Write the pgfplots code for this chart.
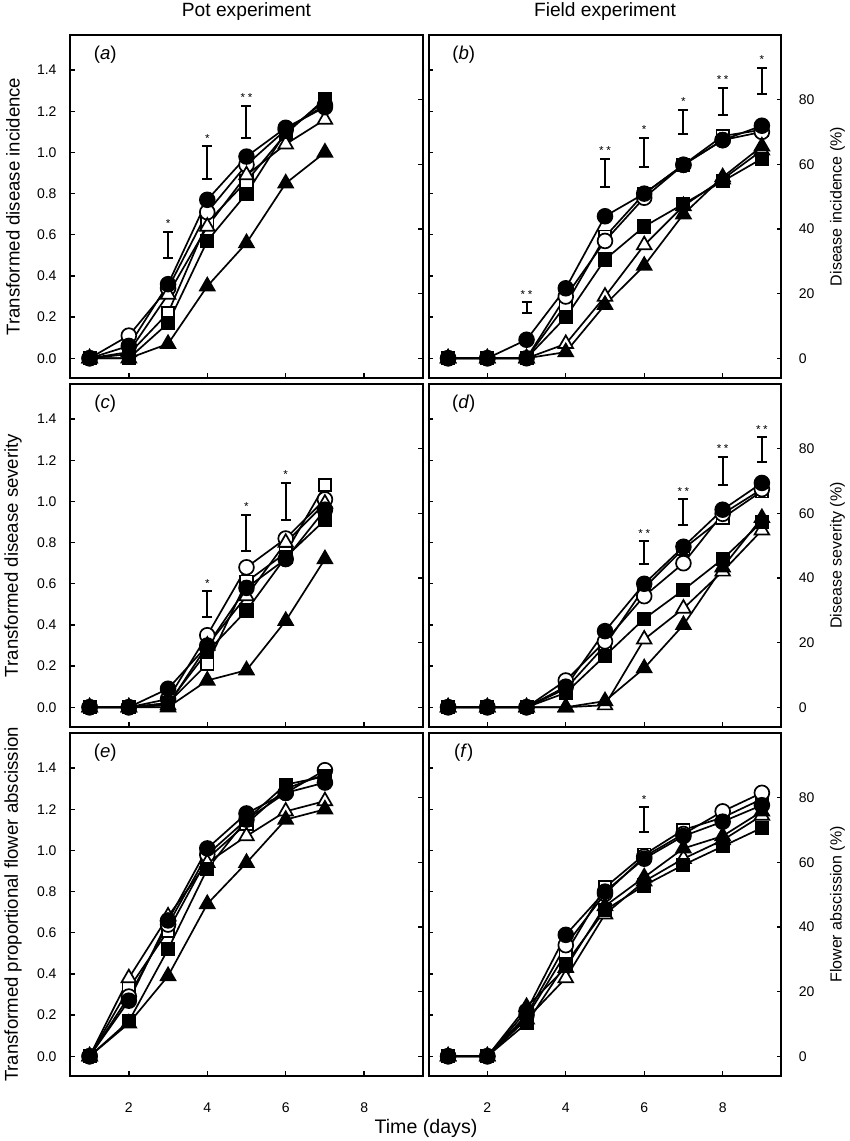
\documentclass[border=0pt]{standalone}
\usepackage{fontspec}
\setmainfont{Liberation Sans}
\usepackage{pgfplots}
\usepackage{pgfplotstable}
\pgfplotsset{compat=1.18}

\newcommand\tickfont{\fontsize{7}{8}\selectfont}
\newcommand\labfont{\fontsize{9.3}{11}\selectfont}
\newcommand\rlabfont{\fontsize{8}{10}\selectfont}
\newcommand\titfont{\fontsize{9.6}{11}\selectfont}
\newcommand\panfont{\fontsize{9.3}{10}\selectfont}
\newcommand\starfont{\fontsize{5.8}{6}\selectfont}

\pgfplotstableread{
x oc fc os fs ot ft
1 0 0 0 0 0 0
2 0.11 0.06 0.02 0.00 0.03 0.00
3 0.34 0.36 0.22 0.17 0.31 0.07
4 0.71 0.77 0.66 0.57 0.64 0.35
5 0.94 0.98 0.86 0.80 0.89 0.56
6 1.11 1.12 1.09 1.10 1.04 0.85
7 1.23 1.22 1.26 1.25 1.16 1.00
}\tabA
\pgfplotstableread{
x oc fc os fs ot ft
1 0 0 0 0 0 0
2 0 0 0 0 0 0
3 0 0.09 0 0 0 0
4 0.30 0.34 0.26 0.20 0.07 0.03
5 0.57 0.69 0.59 0.48 0.30 0.26
6 0.78 0.80 0.80 0.64 0.55 0.45
7 0.94 0.94 0.94 0.75 0.74 0.70
8 1.06 1.06 1.08 0.86 0.87 0.88
9 1.10 1.13 1.11 0.97 1.01 1.03
}\tabB
\pgfplotstableread{
x oc fc os fs ot ft
1 0 0 0 0 0 0
2 0 0 0 0 0 0
3 0.04 0.09 0.02 0.02 0.01 0.00
4 0.35 0.30 0.21 0.27 0.30 0.13
5 0.68 0.58 0.61 0.47 0.54 0.18
6 0.82 0.72 0.75 0.73 0.80 0.42
7 1.01 0.96 1.08 0.91 0.99 0.72
}\tabC
\pgfplotstableread{
x oc fc os fs ot ft
1 0 0 0 0 0 0
2 0 0 0 0 0 0
3 0 0 0 0 0 0
4 0.13 0.10 0.09 0.07 0.00 0.00
5 0.32 0.37 0.30 0.25 0.01 0.03
6 0.54 0.60 0.58 0.43 0.33 0.19
7 0.70 0.78 0.77 0.57 0.48 0.40
8 0.94 0.96 0.92 0.72 0.66 0.68
9 1.06 1.09 1.05 0.90 0.86 0.92
}\tabD
\pgfplotstableread{
x oc fc os fs ot ft
1 0 0 0 0 0 0
2 0.29 0.27 0.33 0.17 0.38 0.16
3 0.64 0.66 0.61 0.52 0.68 0.39
4 0.98 1.01 0.96 0.91 0.94 0.74
5 1.15 1.18 1.13 1.15 1.07 0.94
6 1.28 1.28 1.30 1.32 1.19 1.15
7 1.39 1.33 1.37 1.36 1.24 1.20
}\tabE
\pgfplotstableread{
x oc fc os fs ot ft
1 0 0 0 0 0 0
2 0 0 0 0 0 0
3 0.20 0.22 0.19 0.16 0.18 0.24
4 0.54 0.59 0.50 0.45 0.38 0.43
5 0.79 0.80 0.82 0.71 0.69 0.73
6 0.97 0.96 0.98 0.83 0.85 0.87
7 1.08 1.07 1.10 0.93 0.96 1.01
8 1.19 1.14 1.16 1.02 1.05 1.07
9 1.28 1.22 1.25 1.11 1.17 1.19
}\tabF

\pgfplotsset{
  base/.style={
    scale only axis, width=176.5pt, height=171.5pt,
    xmin=0.5, xmax=9.5, ymin=-0.096, ymax=1.5708,
    axis line style={line width=1pt},
    tick align=inside, major tick length=2.3pt,
    every tick/.style={black, line width=0.7pt},
    ticklabel style={font=\tickfont},
    anchor=north west, clip=false,
  },
  main/.style={base,
    xtick={2,4,6,8}, xtick pos=left, xticklabels={},
    ytick={0,0.2,0.4,0.6,0.8,1.0,1.2,1.4}, ytick pos=left, yticklabels={},
  },
  leftlab/.style={
    yticklabels={0.0,0.2,0.4,0.6,0.8,1.0,1.2,1.4},
    yticklabel style={xshift=-3.2pt},
    ylabel style={at={(axis description cs:-0.1615,0.5)}, anchor=center, font=\labfont},
  },
  bottomlab/.style={
    xticklabels={2,4,6,8},
    xticklabel style={yshift=-10pt},
  },
  over/.style={base,
    xtick=\empty, axis line style={draw=none},
    ytick={0,0.314159,0.628319,0.942478,1.256637},
    ytick pos=right, yticklabel pos=right, yticklabels={},
  },
  rightlab/.style={
    yticklabels={0,20,40,60,80},
    yticklabel style={xshift=5.2pt},
    ylabel style={at={(axis description cs:1.1586,0.5)}, anchor=center, font=\rlabfont},
  },
  toptitle/.style={title style={at={(axis description cs:0.5,1)}, anchor=center, yshift=5.5pt, font=\titfont}},
  ser/.style={black, line width=0.85pt, mark options={solid, line width=0.9pt}},
  oc/.style={ser, mark=*, mark size=3.7pt, mark options={fill=white}},
  fc/.style={ser, mark=*, mark size=3.7pt, mark options={fill=black}},
  os/.style={ser, mark=square*, mark size=3.1pt, mark options={fill=white}},
  fs/.style={ser, mark=square*, mark size=3.1pt, mark options={fill=black}},
  ot/.style={ser, mark=triangle*, mark size=4.2pt, mark options={fill=white}},
  ft/.style={ser, mark=triangle*, mark size=4.2pt, mark options={fill=black}},
  ebar/.style={draw=none, mark=none,
    error bars/.cd, y dir=both, y explicit,
    error bar style={draw=black, solid, line width=1pt},
    error mark options={rotate=90, draw=black, mark size=2.5pt, line width=1pt}},
}

\newcommand\series[1]{%
  \addplot[os] table[x=x,y=os]{#1};
  \addplot[oc] table[x=x,y=oc]{#1};
  \addplot[ot] table[x=x,y=ot]{#1};
  \addplot[fs] table[x=x,y=fs]{#1};
  \addplot[ft] table[x=x,y=ft]{#1};
  \addplot[fc] table[x=x,y=fc]{#1};
}
\newcommand\sig[3]{\node[font=\starfont, anchor=base, yshift=2.1pt, inner sep=0pt] at (axis cs:#1,#2) {#3};}
\newcommand\panlab[1]{\node[font=\panfont, anchor=center] at (rel axis cs:0.1,0.942) {(\textit{#1})};}
\newcommand\one{*}
\newcommand\two{*\hspace{1.3pt}*}

\begin{document}
\begin{tikzpicture}
\useasboundingbox (0,0) rectangle (425pt,-570.5pt);

% (a)
\begin{axis}[main, leftlab, toptitle, at={(35pt,-17.5pt)},
  ylabel={Transformed disease incidence}, title={Pot experiment}]
\series{\tabA}
\addplot[ebar] coordinates {(3,0.549) +- (0,0.064) (4,0.951) +- (0,0.079) (5,1.1485) +- (0,0.0785)};
\sig{3}{0.613}{\one}
\sig{4}{1.030}{\one}
\sig{5}{1.227}{\two}
\panlab{a}
\end{axis}
\begin{axis}[over, at={(35pt,-17.5pt)}]
\end{axis}

% (b)
\begin{axis}[main, toptitle, at={(214.25pt,-17.5pt)}, title={Field experiment}]
\series{\tabB}
\addplot[ebar] coordinates {(3,0.245) +- (0,0.026) (5,0.90) +- (0,0.07) (6,0.9995) +- (0,0.0705) (7,1.149) +- (0,0.059) (8,1.2485) +- (0,0.0645) (9,1.348) +- (0,0.062)};
\sig{3}{0.271}{\two}
\sig{5}{0.970}{\two}
\sig{6}{1.070}{\one}
\sig{7}{1.208}{\one}
\sig{8}{1.313}{\two}
\sig{9}{1.410}{\one}
\panlab{b}
\end{axis}
\begin{axis}[over, rightlab, at={(214.25pt,-17.5pt)}, ylabel={Disease incidence (\%)}]
\end{axis}

% (c)
\begin{axis}[main, leftlab, at={(35pt,-192pt)}, ylabel={Transformed disease severity}]
\series{\tabC}
\addplot[ebar] coordinates {(4,0.5005) +- (0,0.0625) (5,0.8475) +- (0,0.0875) (6,1.0) +- (0,0.092)};
\sig{4}{0.563}{\one}
\sig{5}{0.935}{\one}
\sig{6}{1.092}{\one}
\panlab{c}
\end{axis}
\begin{axis}[over, at={(35pt,-192pt)}]
\end{axis}

% (d)
\begin{axis}[main, at={(214.25pt,-192pt)}]
\series{\tabD}
\addplot[ebar] coordinates {(6,0.751) +- (0,0.055) (7,0.949) +- (0,0.062) (8,1.1495) +- (0,0.0685) (9,1.251) +- (0,0.061)};
\sig{6}{0.806}{\two}
\sig{7}{1.011}{\two}
\sig{8}{1.218}{\two}
\sig{9}{1.312}{\two}
\panlab{d}
\end{axis}
\begin{axis}[over, rightlab, at={(214.25pt,-192pt)}, ylabel={Disease severity (\%)}]
\end{axis}

% (e)
\begin{axis}[main, leftlab, bottomlab, at={(35pt,-366.5pt)},
  ylabel={Transformed proportional flower abscission},
  xlabel={Time (days)},
  xlabel style={at={(axis description cs:1.0085,0)}, anchor=center, yshift=-26pt, font=\fontsize{9.8}{11}\selectfont}]
\series{\tabE}
\panlab{e}
\end{axis}
\begin{axis}[over, at={(35pt,-366.5pt)}]
\end{axis}

% (f)
\begin{axis}[main, bottomlab, at={(214.25pt,-366.5pt)}]
\series{\tabF}
\addplot[ebar] coordinates {(6,1.1495) +- (0,0.0605)};
\sig{6}{1.210}{\one}
\panlab{f}
\end{axis}
\begin{axis}[over, rightlab, at={(214.25pt,-366.5pt)}, ylabel={Flower abscission (\%)}]
\end{axis}
\end{tikzpicture}
\end{document}
